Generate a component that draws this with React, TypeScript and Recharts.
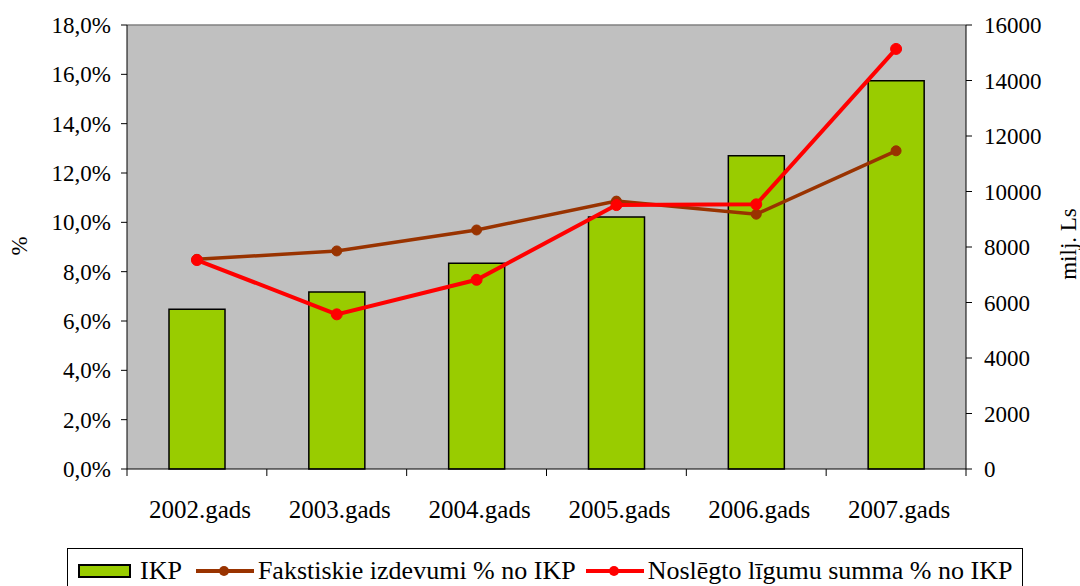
import React from 'react'
import {
  ComposedChart,
  Bar,
  Line,
  XAxis,
  YAxis,
  CartesianGrid,
  ReferenceLine,
  Legend
} from 'recharts'

const years = ['2002.gads', '2003.gads', '2004.gads', '2005.gads', '2006.gads', '2007.gads']
const ikp = [5755, 6378, 7412, 9081, 11290, 13993]
const fakstiskie = [8.5, 8.84, 9.69, 10.86, 10.33, 12.9]
const noslegto = [8.47, 6.27, 7.67, 10.7, 10.73, 17.03]
const percentTicks = [0, 2, 4, 6, 8, 10, 12, 14, 16, 18]
const moneyTicks = [0, 2000, 4000, 6000, 8000, 10000, 12000, 14000, 16000]

const data = years.map((name, i) => ({
  name,
  ikp: ikp[i],
  fakt: fakstiskie[i],
  nosl: noslegto[i]
}))

const FONT = '"Liberation Serif", "Times New Roman", serif'
const CHART_W = 1080
const CHART_H = 586
const LEFT_W = 127
const RIGHT_W = 114
const PLOT_W = CHART_W - LEFT_W - RIGHT_W
const BAND = PLOT_W / years.length

const XTick = (props: any) => {
  const { x, y, payload, index } = props
  const last = index === years.length - 1
  return (
    <g>
      <line x1={x - BAND / 2} x2={x - BAND / 2} y1={y} y2={y + 7} stroke="#000" />
      {last && <line x1={x + BAND / 2} x2={x + BAND / 2} y1={y} y2={y + 7} stroke="#000" />}
      <text x={x + 3} y={y + 49} textAnchor="middle" fontSize={25} fontFamily={FONT} fill="#000">
        {payload.value}
      </text>
    </g>
  )
}

const LeftTitle = (props: any) => {
  const { viewBox } = props
  const x = viewBox.x + 19
  const y = viewBox.y + viewBox.height / 2 - 1
  return (
    <text x={x} y={y} transform={`rotate(-90, ${x}, ${y})`} textAnchor="middle" dominantBaseline="central" fontSize={23} fontFamily={FONT} fill="#000">
      %
    </text>
  )
}

const RightTitle = (props: any) => {
  const { viewBox } = props
  const x = viewBox.x + 102
  const y = viewBox.y + viewBox.height / 2 - 3
  return (
    <text x={x} y={y} transform={`rotate(-90, ${x}, ${y})`} textAnchor="middle" dominantBaseline="central" fontSize={23} fontFamily={FONT} fill="#000">
      milj. Ls
    </text>
  )
}

const LineSwatch = ({ color }: { color: string }) => (
  <svg width={58} height={14} style={{ display: 'block' }}>
    <line x1={0} x2={58} y1={7} y2={7} stroke={color} strokeWidth={4} />
    <circle cx={28} cy={7} r={5} fill={color} />
  </svg>
)

const LegendBox = () => (
  <div
    style={{
      width: 956,
      height: 50,
      boxSizing: 'border-box',
      border: '1px solid #000',
      display: 'flex',
      alignItems: 'center',
      paddingLeft: 10,
      paddingBottom: 4,
      fontFamily: FONT,
      fontSize: 26,
      color: '#000',
      whiteSpace: 'nowrap'
    }}
  >
    <div style={{ width: 49, height: 10, background: '#99CC00', border: '2px solid #000', marginRight: 9 }} />
    <span>IKP</span>
    <span style={{ width: 14 }} />
    <LineSwatch color="#993300" />
    <span style={{ marginLeft: 4 }}>Fakstiskie izdevumi % no IKP</span>
    <span style={{ width: 10 }} />
    <LineSwatch color="#FF0000" />
    <span style={{ marginLeft: 4 }}>Noslēgto līgumu summa % no IKP</span>
  </div>
)

export default function App() {
  return (
    <div style={{ position: 'absolute', left: 0, top: 0, width: CHART_W, height: CHART_H, background: '#fff' }}>
      <ComposedChart width={CHART_W} height={CHART_H} data={data} margin={{ top: 25, right: 0, bottom: 0, left: 0 }}>
        <CartesianGrid yAxisId="left" fill="#C0C0C0" stroke="none" horizontal={false} vertical={false} />
        <XAxis
          dataKey="name"
          height={117}
          tick={<XTick />}
          tickLine={false}
          tickSize={0}
          tickMargin={0}
          axisLine={{ stroke: '#000' }}
          interval={0}
        />
        <YAxis
          yAxisId="left"
          width={LEFT_W}
          domain={[0, 18]}
          ticks={percentTicks}
          tickFormatter={(v: number) => `${v.toFixed(1).replace('.', ',')}%`}
          tick={{ fontSize: 23, fontFamily: FONT, fill: '#000' }}
          tickSize={6}
          tickMargin={10}
          tickLine={{ stroke: '#000' }}
          axisLine={{ stroke: '#000' }}
          label={<LeftTitle />}
        />
        <YAxis
          yAxisId="right"
          orientation="right"
          width={RIGHT_W}
          domain={[0, 16000]}
          ticks={moneyTicks}
          tick={{ fontSize: 23, fontFamily: FONT, fill: '#000' }}
          tickSize={6}
          tickMargin={12}
          tickLine={{ stroke: '#000' }}
          axisLine={{ stroke: '#000' }}
          label={<RightTitle />}
        />
        <ReferenceLine yAxisId="left" y={18} stroke="#808080" strokeWidth={1.5} />
        <Bar yAxisId="right" dataKey="ikp" name="IKP" barSize={56} fill="#99CC00" stroke="#000" strokeWidth={1.5} isAnimationActive={false} />
        <Line
          yAxisId="left"
          type="linear"
          dataKey="fakt"
          name="Fakstiskie izdevumi % no IKP"
          stroke="#993300"
          strokeWidth={3.5}
          dot={{ r: 5, fill: '#993300', stroke: '#993300', strokeWidth: 1 }}
          isAnimationActive={false}
        />
        <Line
          yAxisId="left"
          type="linear"
          dataKey="nosl"
          name="Noslēgto līgumu summa % no IKP"
          stroke="#FF0000"
          strokeWidth={4}
          dot={{ r: 5.5, fill: '#FF0000', stroke: '#FF0000', strokeWidth: 1 }}
          isAnimationActive={false}
        />
        <Legend
          layout="horizontal"
          verticalAlign="middle"
          align="center"
          content={<LegendBox />}
          wrapperStyle={{ left: 67, top: 548, width: 956, height: 50, margin: 0 }}
        />
      </ComposedChart>
    </div>
  )
}
